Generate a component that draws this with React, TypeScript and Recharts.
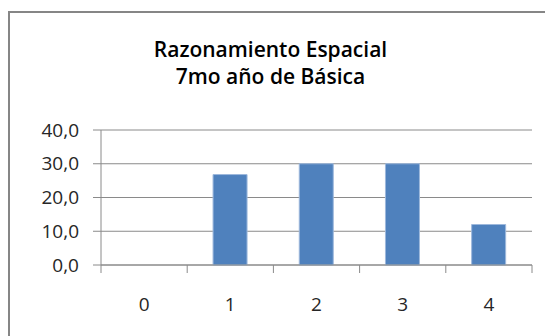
import { BarChart, Bar, XAxis, YAxis, CartesianGrid } from "recharts";

// Porcentaje de estudiantes por nivel de logro
const niveles = ["0", "1", "2", "3", "4"];
const porcentajes = [0, 26.8, 30.0, 30.0, 12.0];
const marcasY = [0, 10, 20, 30, 40];
const titulo = ["Razonamiento Espacial", "7mo año de Básica"];

const datos = niveles.map((nivel, i) => ({ nivel, valor: porcentajes[i] }));

const GRIS = "#8a8a8a";
const FUENTE = "'Open Sans', 'Liberation Sans', sans-serif";

// etiqueta centrada y marca en el borde de cada categoría (estilo Excel)
function TickNivel(props: any) {
  const { x, y, payload, index, visibleTicksCount } = props;
  const medio = payload.offset ?? 0;
  const ejeY = y - 30;
  const ultimo = index === visibleTicksCount - 1;
  return (
    <g>
      <line x1={x - medio} x2={x - medio} y1={ejeY} y2={ejeY + 8} stroke={GRIS} />
      {ultimo && (
        <line x1={x + medio} x2={x + medio} y1={ejeY} y2={ejeY + 8} stroke={GRIS} />
      )}
      <text
        x={x}
        y={ejeY + 46}
        textAnchor="middle"
        fill="#262626"
        fontSize={19}
        fontFamily={FUENTE}
      >
        {payload.value}
      </text>
    </g>
  );
}

export default function App() {
  return (
    <div
      style={{
        position: "absolute",
        left: 0,
        top: 0,
        width: 545,
        height: 336,
        overflow: "hidden",
        background: "#fff",
      }}
    >
      <div
        style={{
          position: "absolute",
          left: 8,
          top: 11,
          width: 600,
          height: 400,
          border: "2px solid #868686",
        }}
      />
      <div
        style={{
          position: "absolute",
          left: 0,
          top: 36,
          width: 541,
          textAlign: "center",
          fontFamily: FUENTE,
          fontWeight: 600,
          fontSize: 21,
          lineHeight: "27px",
          color: "#000",
        }}
      >
        {titulo.map((t) => (
          <div key={t}>{t}</div>
        ))}
      </div>
      <BarChart
        width={545}
        height={336}
        data={datos}
        margin={{ top: 130, right: 13, left: 0, bottom: 0 }}
        barCategoryGap="30%"
        style={{ position: "absolute", left: 0, top: 0 }}
      >
        <CartesianGrid vertical={false} stroke={GRIS} />
        <XAxis
          dataKey="nivel"
          height={71}
          axisLine={{ stroke: GRIS }}
          tickLine={false}
          tickSize={8}
          tickMargin={22}
          tick={<TickNivel />}
          interval={0}
        />
        <YAxis
          width={101}
          domain={[0, 40]}
          ticks={marcasY}
          interval={0}
          tickFormatter={(v: number) => v.toFixed(1).replace(".", ",")}
          axisLine={{ stroke: GRIS }}
          tickLine={{ stroke: GRIS }}
          tickSize={8}
          tickMargin={14}
          tick={{ fill: "#262626", fontSize: 19, fontFamily: FUENTE }}
        />
        <Bar
          dataKey="valor"
          fill="#4f81bd"
          stroke="#9db8dc"
          strokeWidth={1}
          isAnimationActive={false}
        />
      </BarChart>
    </div>
  );
}
